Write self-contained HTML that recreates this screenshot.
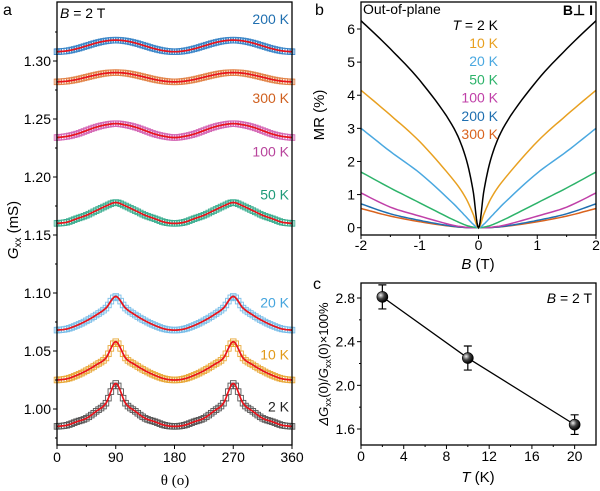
<!DOCTYPE html>
<html><head><meta charset="utf-8"><style>
body{margin:0;background:#fff;}
svg{display:block;font-family:"Liberation Sans",Arial,sans-serif;}
</style></head><body>
<svg id="fig" width="600" height="491" viewBox="0 0 600 491">
<g id="pa"></g>
<g id="pb"></g>
<g id="pc"></g>
</svg>
<script>
// ---------- Panel a data ----------
const aAngles = [0,15,30,45,60,75,90,105,120,135,150,165,180,195,210,225,240,255,270,285,300,315,330,345,360];
const aLabels = ['2 K','10 K','20 K','50 K','100 K','300 K','200 K'];
const a2K  = [0.985,0.986,0.989,0.992,0.998,1.005,1.022,1.005,0.998,0.992,0.989,0.986,0.985,0.986,0.989,0.992,0.998,1.005,1.022,1.005,0.998,0.992,0.989,0.986,0.985];
const a10K = [1.025,1.026,1.029,1.033,1.038,1.044,1.058,1.044,1.038,1.033,1.029,1.026,1.025,1.026,1.029,1.033,1.038,1.044,1.058,1.044,1.038,1.033,1.029,1.026,1.025];
const a20K = [1.068,1.069,1.072,1.076,1.081,1.087,1.097,1.087,1.081,1.076,1.072,1.069,1.068,1.069,1.072,1.076,1.081,1.087,1.097,1.087,1.081,1.076,1.072,1.069,1.068];
const a50K = [1.160,1.161,1.164,1.167,1.171,1.175,1.178,1.175,1.171,1.167,1.164,1.161,1.160,1.161,1.164,1.167,1.171,1.175,1.178,1.175,1.171,1.167,1.164,1.161,1.160];
const a100K= [1.234,1.235,1.237,1.240,1.243,1.245,1.246,1.245,1.243,1.240,1.237,1.235,1.234,1.235,1.237,1.240,1.243,1.245,1.246,1.245,1.243,1.240,1.237,1.235,1.234];
const a300K= [1.282,1.2826,1.284,1.286,1.288,1.2895,1.290,1.2895,1.288,1.286,1.284,1.2826,1.282,1.2826,1.284,1.286,1.288,1.2895,1.290,1.2895,1.288,1.286,1.284,1.2826,1.282];
const a200K= [1.308,1.3087,1.3105,1.313,1.3155,1.3173,1.318,1.3173,1.3155,1.313,1.3105,1.3087,1.308,1.3087,1.3105,1.313,1.3155,1.3173,1.318,1.3173,1.3155,1.313,1.3105,1.3087,1.308];
const aXTicks = [0,90,180,270,360];
const aYTicks = [1.00,1.05,1.10,1.15,1.20,1.25,1.30];
// ---------- Panel b data ----------
const bField = [-2,-1.5,-1,-0.5,-0.25,-0.1,0,0.1,0.25,0.5,1,1.5,2];
const bLabels = ['2 K','10 K','20 K','50 K','100 K','200 K','300 K'];
const b2K  = [6.25,5.4,4.45,3.25,2.3,1.2,0,1.2,2.3,3.25,4.45,5.4,6.25];
const b10K = [4.15,3.4,2.6,1.6,1.0,0.45,0,0.45,1.0,1.6,2.6,3.4,4.15];
const b20K = [3.0,2.3,1.65,0.85,0.4,0.12,0,0.12,0.4,0.85,1.65,2.3,3.0];
const b50K = [1.68,1.2,0.75,0.3,0.1,0.02,0,0.02,0.1,0.3,0.75,1.2,1.68];
const b100K= [1.05,0.62,0.35,0.1,0.02,0,0,0,0.02,0.1,0.35,0.62,1.05];
const b200K= [0.72,0.42,0.22,0.06,0.01,0,0,0,0.01,0.06,0.22,0.42,0.72];
const b300K= [0.58,0.35,0.18,0.05,0.01,0,0,0,0.01,0.05,0.18,0.35,0.58];
const bXTicks = [-2,-1,0,1,2];
const bYTicks = [0,1,2,3,4,5,6];
// ---------- Panel c data ----------
const cTemps = [2,10,20];
const cValues = [2.81,2.25,1.64];
const cErrors = [0.11,0.11,0.09];
const cXTicks = [0,4,8,12,16,20];
const cYTicks = [1.6,2.0,2.4,2.8];

const NS='http://www.w3.org/2000/svg';
function mk(parent,tag,attrs,text){const e=document.createElementNS(NS,tag);for(const k in attrs)e.setAttribute(k,attrs[k]);if(text!==undefined)e.textContent=text;parent.appendChild(e);return e;}
function lin(d0,d1,r0,r1){return v=>r0+(v-d0)*(r1-r0)/(d1-d0);}
function cr(xs,ys,n){const out=[];for(let i=0;i<xs.length-1;i++){const x0=xs[Math.max(i-1,0)],y0=ys[Math.max(i-1,0)],x1=xs[i],y1=ys[i],x2=xs[i+1],y2=ys[i+1],x3=xs[Math.min(i+2,xs.length-1)],y3=ys[Math.min(i+2,xs.length-1)];for(let k=0;k<n;k++){const t=k/n,t2=t*t,t3=t2*t;const f=(p0,p1,p2,p3)=>0.5*(2*p1+(-p0+p2)*t+(2*p0-5*p1+4*p2-p3)*t2+(-p0+3*p1-3*p2+p3)*t3);out.push([f(x0,x1,x2,x3),f(y0,y1,y2,y3)]);}}out.push([xs[xs.length-1],ys[ys.length-1]]);return out;}
const TF=14;

// ===== Panel a =====
(function(){
const g=document.getElementById('pa');
const L=57,R=292,T=2,B=445;
const x=lin(0,360,L,R);
const yy=lin(1.00,1.10,409,293);
const series=[a2K,a10K,a20K,a50K,a100K,a300K,a200K];
const sq=['#555','#e8a838','#78bde8','#3aae90','#d466b4','#e2844a','#3b86c8'];
const lc=['#222','#e29a1a','#45a5de','#1f9a78','#b8449c','#d0601f','#1f6fb0'];
const ly=[1.002,1.047,1.092,1.185,1.222,1.268,1.336];
series.forEach((s,i)=>{
  const pts=cr(aAngles,s,12);
  const sg=mk(g,'g',{});
  
  
  pts.forEach((p,j)=>{if(j%3===0){mk(sg,'rect',{x:x(p[0])-2.8,y:yy(p[1])-2.8,width:5.6,height:5.6,fill:'none',stroke:sq[i],'stroke-width':0.9});}});
  const d=pts.map((p,j)=>(j?'L':'M')+x(p[0]).toFixed(1)+','+yy(p[1]).toFixed(1)).join('');
  const fl=mk(g,'path',{d:d,fill:'none',stroke:'#e8141c','stroke-width':1.7});
  
  
  const t=mk(g,'text',{x:R-3,y:yy(ly[i])+5,'text-anchor':'end','font-size':TF,fill:lc[i]},aLabels[i]);
  
  
});
mk(g,'rect',{x:L,y:T,width:R-L,height:B-T,fill:'none',stroke:'#000','stroke-width':1.3});
aYTicks.forEach(v=>{mk(g,'line',{x1:L-4,x2:L,y1:yy(v),y2:yy(v),stroke:'#000'});mk(g,'text',{x:L-6,y:yy(v)+5,'text-anchor':'end','font-size':TF},v.toFixed(2));});
for(let v=0.975;v<1.34;v+=0.05){mk(g,'line',{x1:L-2,x2:L,y1:yy(v),y2:yy(v),stroke:'#000'});}
aXTicks.forEach(v=>{mk(g,'line',{x1:x(v),x2:x(v),y1:B,y2:B+4,stroke:'#000'});mk(g,'text',{x:x(v),y:B+17,'text-anchor':'middle','font-size':TF},String(v));});
for(let v=45;v<360;v+=90){mk(g,'line',{x1:x(v),x2:x(v),y1:B,y2:B+2,stroke:'#000'});}
mk(g,'text',{x:175,y:485,'text-anchor':'middle','font-size':15,'font-family':'Liberation Serif, serif'},'θ (o)');
const yt=mk(g,'text',{x:0,y:0,'text-anchor':'middle','font-size':15,transform:'translate(18,230) rotate(-90)'});

mk(yt,'tspan',{'font-style':'italic'},'G');mk(yt,'tspan',{'font-size':10,dy:3},'xx');mk(yt,'tspan',{dy:-3},' (mS)');
const bt=mk(g,'text',{x:60,y:18,'font-size':TF});
mk(bt,'tspan',{'font-style':'italic'},'B');mk(bt,'tspan',{},' = 2 T');
mk(g,'text',{x:3,y:15,'font-size':16},'a');
})();

// ===== Panel b =====
(function(){
const g=document.getElementById('pb');
const L=361,R=596,T=2,B=235;
const x=lin(-2,2,L,R), y=lin(0,6,227.7,29);
const series=[b2K,b10K,b20K,b50K,b100K,b200K,b300K];
const col=['#000','#e8a020','#4aa8e0','#2db36a','#c040a8','#1f6fb0','#d9631e'];
for(let i=series.length-1;i>=0;i--){
  const pts=cr(bField,series[i],8);
  const d=pts.map((p,j)=>(j?'L':'M')+x(p[0]).toFixed(1)+','+y(p[1]).toFixed(1)).join('');
  const p=mk(g,'path',{d:d,fill:'none',stroke:col[i],'stroke-width':1.5});
  
  
}
mk(g,'rect',{x:L,y:T,width:R-L,height:B-T,fill:'none',stroke:'#000','stroke-width':1.3});
bYTicks.forEach(v=>{mk(g,'line',{x1:L-4,x2:L,y1:y(v),y2:y(v),stroke:'#000'});mk(g,'text',{x:L-6,y:y(v)+5,'text-anchor':'end','font-size':TF},String(v));});
bXTicks.forEach(v=>{mk(g,'line',{x1:x(v),x2:x(v),y1:B,y2:B+4,stroke:'#000'});mk(g,'text',{x:x(v),y:B+15,'text-anchor':'middle','font-size':TF},String(v));});
for(let v=-1.5;v<2;v+=1){mk(g,'line',{x1:x(v),x2:x(v),y1:B,y2:B+2,stroke:'#000'});}
const xt=mk(g,'text',{x:478,y:269,'text-anchor':'middle','font-size':15});
mk(xt,'tspan',{'font-style':'italic'},'B');mk(xt,'tspan',{},' (T)');
mk(g,'text',{x:0,y:0,'text-anchor':'middle','font-size':15,transform:'translate(324,115) rotate(-90)'},'MR (%)');
mk(g,'text',{x:363,y:14,'font-size':TF},'Out-of-plane');
mk(g,'text',{x:593,y:15,'text-anchor':'end','font-size':TF,'font-weight':'bold'},'B⊥ I');
const tl=mk(g,'text',{x:498,y:30,'text-anchor':'end','font-size':TF});
mk(tl,'tspan',{'font-style':'italic'},'T');mk(tl,'tspan',{},' =  2 K');
bLabels.slice(1).forEach((s,i)=>{const t=mk(g,'text',{x:498,y:48+i*18.2,'text-anchor':'end','font-size':TF,fill:col[i+1]},s);
  });
mk(g,'text',{x:315,y:15,'font-size':16},'b');
})();

// ===== Panel c =====
(function(){
const g=document.getElementById('pc');
const L=361,R=596,T=283,B=445;
const x=lin(0,22,L,R), y=lin(1.6,2.8,429,298);
mk(g,'rect',{x:L,y:T,width:R-L,height:B-T,fill:'none',stroke:'#000','stroke-width':1.3});
const defs=mk(g,'defs',{});
const rg=mk(defs,'radialGradient',{id:'ball',cx:'35%',cy:'35%',r:'65%'});
mk(rg,'stop',{offset:'0','stop-color':'#eee'});mk(rg,'stop',{offset:'0.5','stop-color':'#444'});mk(rg,'stop',{offset:'1','stop-color':'#000'});
mk(g,'path',{d:cTemps.map((t,i)=>(i?'L':'M')+x(t)+','+y(cValues[i])).join(''),fill:'none',stroke:'#000','stroke-width':1.3});
cTemps.forEach((t,i)=>{
  const e=mk(g,'path',{d:`M${x(t)},${y(cValues[i]+cErrors[i])}V${y(cValues[i]-cErrors[i])}M${x(t)-4},${y(cValues[i]+cErrors[i])}h8M${x(t)-4},${y(cValues[i]-cErrors[i])}h8`,stroke:'#000','stroke-width':1.2,fill:'none'});
  
  const c=mk(g,'circle',{cx:x(t),cy:y(cValues[i]),r:5.5,fill:'url(#ball)',stroke:'#000','stroke-width':0.6});
  
});
cYTicks.forEach(v=>{mk(g,'line',{x1:L-4,x2:L,y1:y(v),y2:y(v),stroke:'#000'});mk(g,'text',{x:L-6,y:y(v)+5,'text-anchor':'end','font-size':TF},v.toFixed(1));});
for(let v=1.8;v<2.9;v+=0.4){mk(g,'line',{x1:L-2,x2:L,y1:y(v),y2:y(v),stroke:'#000'});}
cXTicks.forEach(v=>{mk(g,'line',{x1:x(v),x2:x(v),y1:B,y2:B+4,stroke:'#000'});mk(g,'text',{x:x(v),y:B+16,'text-anchor':'middle','font-size':TF},String(v));});
for(let v=2;v<22;v+=4){mk(g,'line',{x1:x(v),x2:x(v),y1:B,y2:B+2,stroke:'#000'});}
const xt=mk(g,'text',{x:478,y:482,'text-anchor':'middle','font-size':15});
mk(xt,'tspan',{'font-style':'italic'},'T');mk(xt,'tspan',{},' (K)');
const yt=mk(g,'text',{x:0,y:0,'text-anchor':'middle','font-size':13,transform:'translate(328,364) rotate(-90)'});

mk(yt,'tspan',{'font-style':'italic'},'ΔG');mk(yt,'tspan',{'font-size':9,dy:3},'xx');mk(yt,'tspan',{dy:-3},'(0)/');
mk(yt,'tspan',{'font-style':'italic'},'G');mk(yt,'tspan',{'font-size':9,dy:3},'xx');mk(yt,'tspan',{dy:-3},'(0)×100%');
const bt=mk(g,'text',{x:592,y:303,'text-anchor':'end','font-size':TF});
mk(bt,'tspan',{'font-style':'italic'},'B');mk(bt,'tspan',{},' = 2 T');
mk(g,'text',{x:313,y:289,'font-size':16},'c');
})();
</script>
</body></html>
